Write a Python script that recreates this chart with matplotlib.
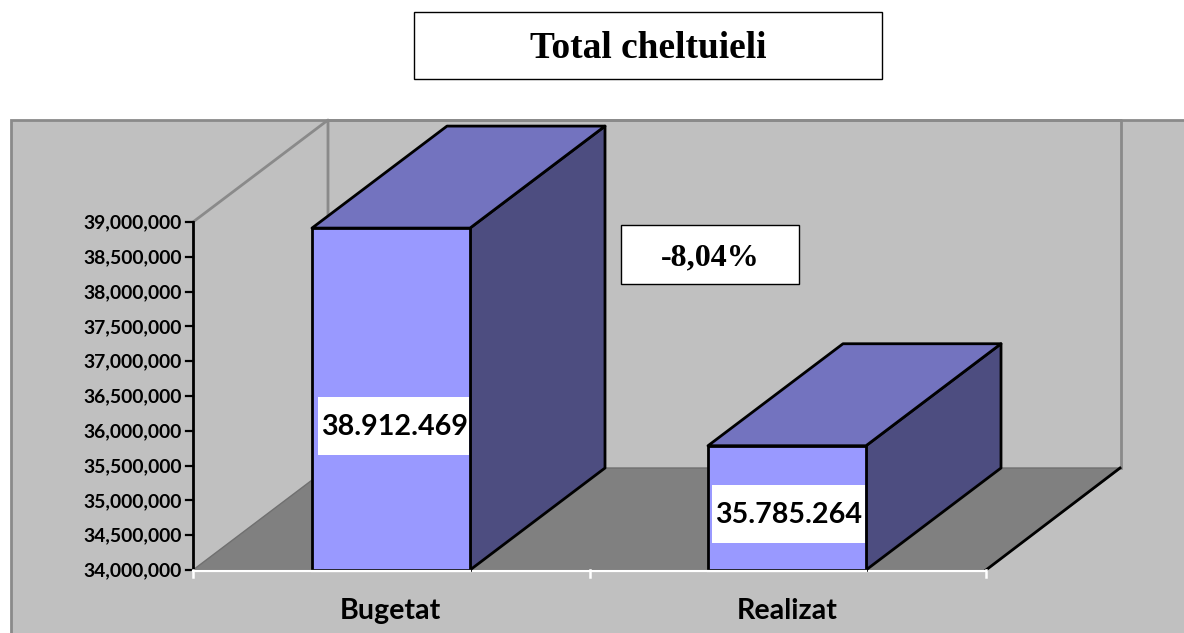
import matplotlib
matplotlib.use('Agg')
import matplotlib.pyplot as plt
from matplotlib.patches import Polygon, Rectangle

categories = ['Bugetat', 'Realizat']
values = [38912469, 35785264]
value_labels = ['38.912.469', '35.785.264']
yticks = [34000000 + 500000 * i for i in range(11)]
title = 'Total cheltuieli'
diff_label = '-8,04%'

W, H = 1184, 633
fig = plt.figure(figsize=(W / 100, H / 100), dpi=100)
# pixel coords, y going down like the screenshot
bg = fig.add_axes([0, 0, 1, 1])
bg.set_xlim(0, W)
bg.set_ylim(H, 0)
bg.axis('off')

grey = '#c0c0c0'
edge = '#8a8a8a'
bg.add_patch(Rectangle((11, 119.5), 1200, 540, fc=grey, ec=edge, lw=2, zorder=0))

# chart geometry
x0, x1 = 193, 986
y_base, y_top = 570, 222
dx, dy = 135, -102
ymin, ymax = 34000000, 39000000


def ypix(v):
    return y_base - (v - ymin) / (ymax - ymin) * (y_base - y_top)


# walls and floor
bg.plot([x0, x0 + dx, x0 + dx], [y_top, y_top + dy, y_base + dy], color=edge, lw=2, zorder=1)
bg.plot([x0 + dx, 1121, 1121], [y_top + dy, y_top + dy, y_base + dy], color=edge, lw=2, zorder=1)
bg.add_patch(Polygon([(x0, y_base), (x0 + dx, y_base + dy), (1121, y_base + dy), (x1, y_base)],
                     fc='#808080', ec='#707070', lw=1, zorder=1.5))
bg.plot([x1, 1120], [y_base, y_base + dy], color='black', lw=2, zorder=1.6)

# y axis
bg.plot([x0, x0], [y_top, y_base], color='black', lw=2, zorder=2)
for t in yticks:
    yy = ypix(t)
    bg.plot([x0 - 7, x0], [yy, yy], color='black', lw=1.6, zorder=2)
    bg.text(x0 - 11, yy + 1, f'{t:,}', ha='right', va='center', fontsize=13.9,
            fontweight='bold', family='Lato')

# x axis
bg.plot([x0, x1], [y_base + 1, y_base + 1], color='white', lw=1.6, zorder=2)
for xx in [x0, (x0 + x1) / 2, x1]:
    bg.plot([xx, xx], [y_base, y_base + 7], color='white', lw=1.8, zorder=2)

# bars
bar_left = [312, 708]
bar_w = 158
box_left = [318, 712]
for i in range(2):
    l = bar_left[i]
    r = l + bar_w
    top = ypix(values[i])
    bg.add_patch(Polygon([(r, top), (r + dx, top + dy), (r + dx, y_base + dy), (r, y_base)],
                         fc='#4d4d80', ec='black', lw=2, joinstyle='round', zorder=3))
    bg.add_patch(Polygon([(l, top), (l + dx, top + dy), (r + dx, top + dy), (r, top)],
                         fc='#7373bf', ec='black', lw=2, joinstyle='round', zorder=3))
    bg.add_patch(Rectangle((l, top), bar_w, y_base - top, fc='#9999ff', ec='black', lw=2, zorder=3))
    bg.plot([l, r], [y_base + 1, y_base + 1], color='white', lw=1.6, zorder=3.5)
    # value box
    cy = [426, 514][i]
    bg.add_patch(Rectangle((box_left[i], cy - 29), r - box_left[i] - 1, 58, fc='white', ec='none', zorder=5))
    bg.text(box_left[i] + 76.5, cy + 1, value_labels[i], ha='center', va='center', fontsize=20.6,
            fontweight='bold', family='Lato', zorder=6)
    bg.text((x0 + (x1 - x0) * (i + 0.5) / 2) - 0.5, 611, categories[i], ha='center', va='center',
            fontsize=20.6, fontweight='bold', family='Lato')

# title box and percent box
bg.add_patch(Rectangle((414, 12), 468, 67, fc='white', ec='black', lw=1))
bg.text(648, 48, title, ha='center', va='center', fontsize=26.9, fontweight='bold',
        family='Liberation Serif')
bg.add_patch(Rectangle((621, 225), 178, 59, fc='white', ec='black', lw=1, zorder=5))
bg.text(710, 258, diff_label, ha='center', va='center', fontsize=23, fontweight='bold',
        family='Liberation Serif', zorder=6)

fig.savefig('out.png', dpi=100)
